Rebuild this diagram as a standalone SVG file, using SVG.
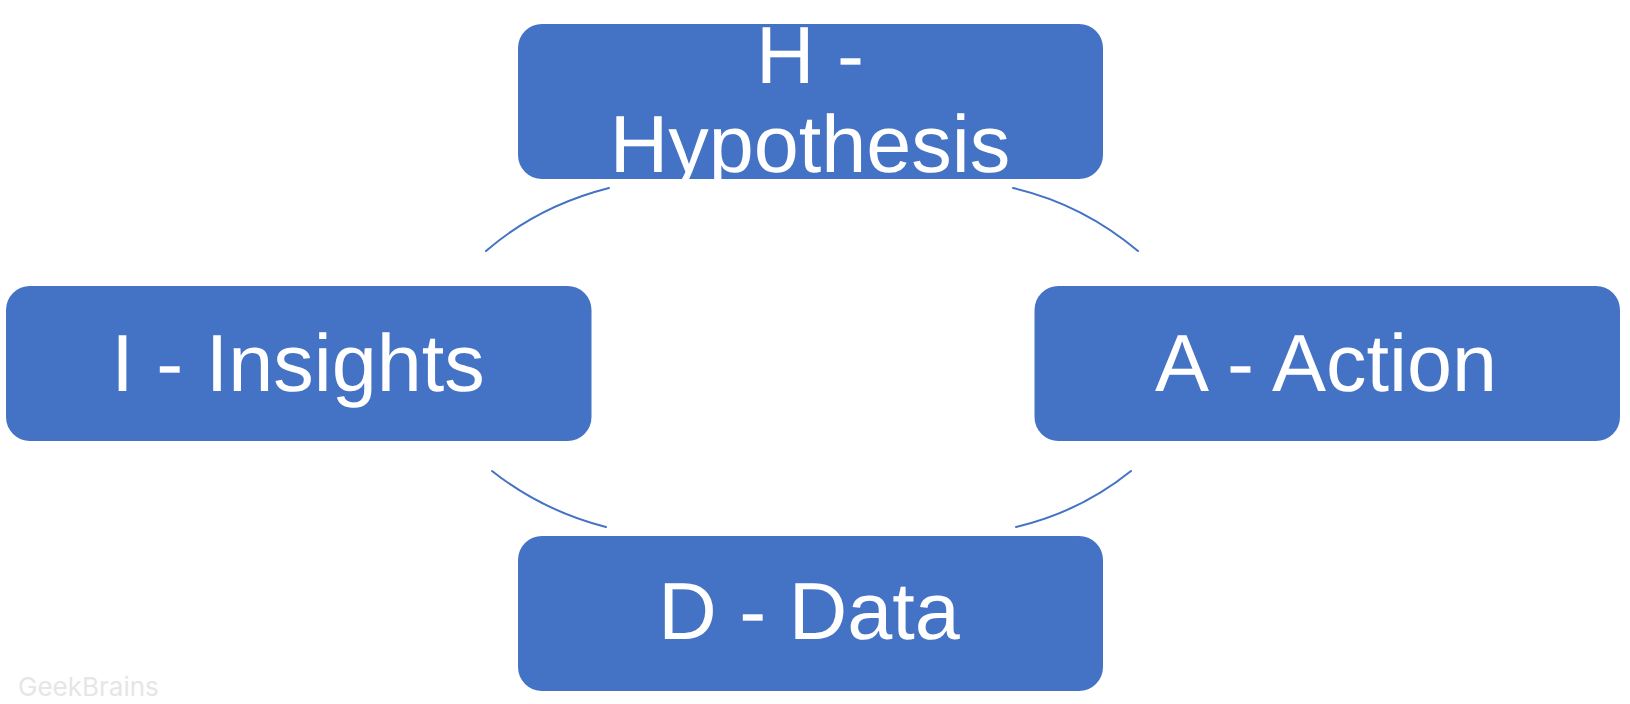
<svg xmlns="http://www.w3.org/2000/svg" width="1630" height="704" viewBox="0 0 1630 704">
<style>
.box{fill:#4472c4}
.lbl{font-family:"Liberation Sans",Arial,sans-serif;font-size:81px;fill:#fff;text-anchor:middle;text-rendering:geometricPrecision}
.arc{fill:none;stroke:#4472c4;stroke-width:2;stroke-linecap:round}
.wm{font-family:"Inter","Noto Sans",sans-serif;font-size:26px;fill:#e6e6e6}
</style>
<rect width="1630" height="704" fill="#fff"/>
<g id="connectors">
<path class="arc" d="M486 251Q538 206 609 188"/>
<path class="arc" d="M1013 188Q1082 204 1138 251"/>
<path class="arc" d="M1131 471Q1080 512 1016 527"/>
<path class="arc" d="M492 471Q543 511 606 527"/>
</g>
<g id="node-h"><rect class="box" x="518" y="24" width="585" height="155" rx="24"/>
<text class="lbl"><tspan x="810" y="83">H -</tspan><tspan x="810" y="172">Hypothesis</tspan></text></g>
<g id="node-i"><rect class="box" x="6" y="286" width="585.500" height="155" rx="24"/>
<text class="lbl" x="298" y="391">I - Insights</text></g>
<g id="node-a"><rect class="box" x="1034.500" y="286" width="585.500" height="155" rx="24"/>
<text class="lbl" x="1326" y="391">A - Action</text></g>
<g id="node-d"><rect class="box" x="518" y="536" width="585" height="155" rx="24"/>
<text class="lbl" x="809" y="639">D - Data</text></g>
<text class="wm" x="18" y="696">GeekBrains</text>
</svg>
